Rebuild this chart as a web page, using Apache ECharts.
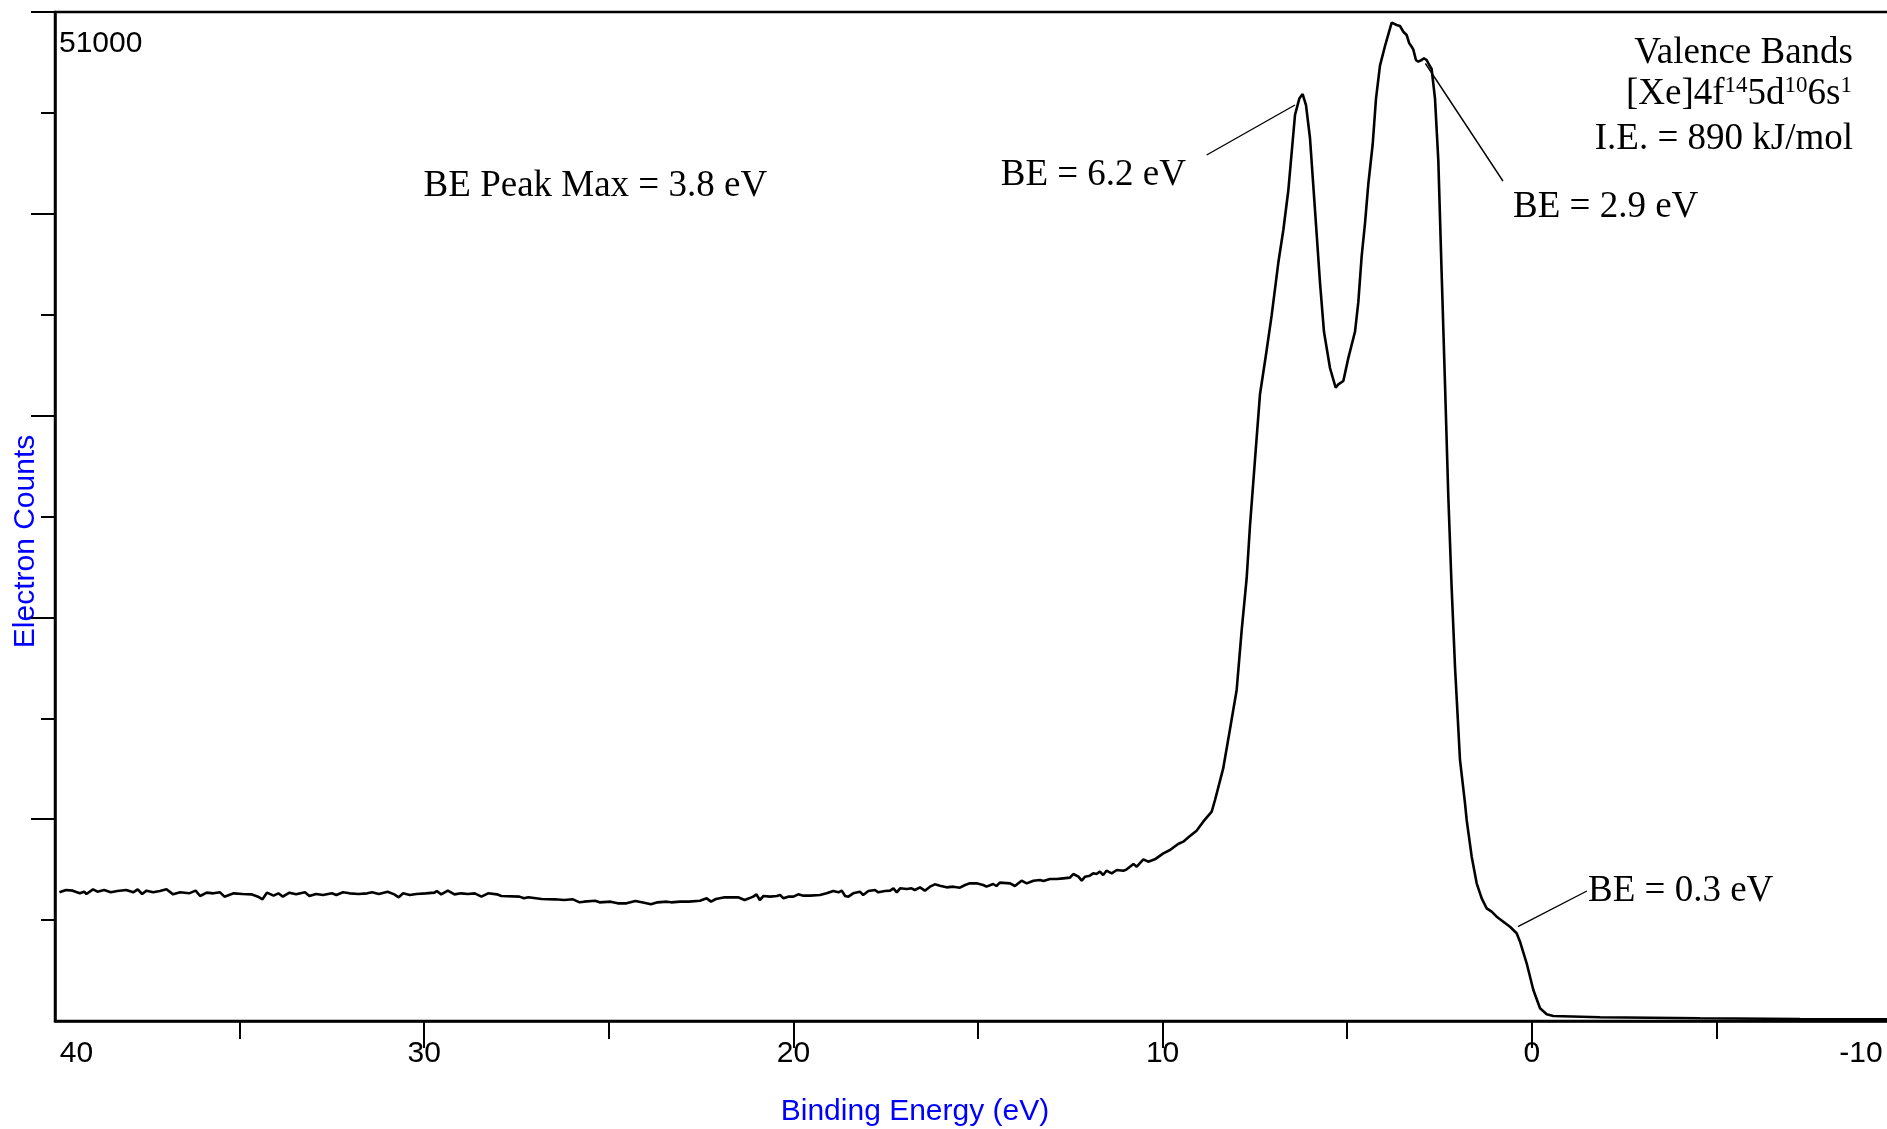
<!DOCTYPE html>
<html>
<head>
<meta charset="utf-8">
<script src="https://cdn.jsdelivr.net/npm/echarts@6.0.0/dist/echarts.min.js"></script>
<style>
html,body{margin:0;padding:0;background:#fff;}
#chart{width:1887px;height:1129px;}
</style>
</head>
<body>
<div id="chart"></div>
<script>
// Binding energy (eV), left to right
const bindingEnergy = [
 39.88,39.70,39.52,39.33,39.21,39.15,38.97,38.85,38.67,38.49,38.31,38.07,37.88,37.76,37.64,37.52,37.34,37.16,36.98,36.80,
 36.61,36.37,36.19,36.07,35.89,35.71,35.53,35.41,35.16,34.92,34.68,34.50,34.38,34.26,34.08,33.95,33.83,33.65,33.47,33.23,
 33.11,32.93,32.74,32.50,32.38,32.20,32.02,31.78,31.54,31.41,31.23,30.99,30.81,30.69,30.57,30.39,30.21,29.96,29.72,29.66,
 29.54,29.36,29.18,29.00,28.82,28.63,28.45,28.27,28.03,27.91,27.42,27.30,27.18,26.82,26.46,26.21,25.97,25.79,25.67,25.37,
 25.25,24.95,24.76,24.52,24.28,24.04,23.86,23.68,23.43,23.31,23.07,22.83,22.53,22.35,22.23,22.10,21.86,21.50,21.32,21.20,
 21.09,21.00,20.91,20.81,20.63,20.45,20.36,20.27,20.14,20.00,19.87,19.73,19.55,19.28,19.10,18.92,18.78,18.69,18.60,18.51,
 18.38,18.20,18.11,17.97,17.79,17.70,17.52,17.38,17.29,17.20,17.11,16.93,16.80,16.71,16.57,16.44,16.30,16.17,16.03,15.85,
 15.67,15.49,15.35,15.22,15.04,14.86,14.77,14.59,14.50,14.41,14.13,14.00,13.82,13.68,13.50,13.32,13.23,13.05,12.87,12.69,
 12.51,12.42,12.28,12.19,12.10,11.97,11.88,11.79,11.70,11.61,11.52,11.38,11.24,11.06,10.97,10.79,10.70,10.66,10.52,10.39,
 10.21,9.98,9.80,9.58,9.44,9.30,9.08,8.90,8.67,8.58,8.36,8.175,7.994,7.859,7.723,7.633,7.498,7.362,7.200,7.046,
 6.866,6.730,6.595,6.414,6.297,6.207,6.116,6.008,5.872,5.737,5.629,5.466,5.313,5.240,5.105,4.970,4.789,4.699,4.608,4.518,
 4.428,4.310,4.220,4.112,3.976,3.795,3.660,3.571,3.481,3.390,3.319,3.254,3.211,3.138,3.075,2.983,2.921,2.848,2.778,2.713,
 2.622,2.532,2.442,2.351,2.261,2.171,2.080,1.945,1.809,1.764,1.628,1.493,1.357,1.222,1.087,0.951,0.771,0.590,0.410,0.319,
 0.139,-0.042,-0.223,-0.403,-0.584,-1.848,-4.56,-7.265,-9.62
];
// Electron counts
const electronCounts = [
 6504,6621,6588,6453,6537,6419,6655,6537,6621,6504,6571,6621,6504,6655,6419,6588,6504,6571,6655,6402,
 6504,6453,6588,6318,6487,6453,6504,6285,6453,6419,6402,6285,6150,6487,6335,6453,6285,6487,6402,6504,
 6318,6419,6369,6453,6369,6504,6453,6419,6453,6504,6419,6537,6402,6251,6453,6369,6419,6453,6487,6571,
 6402,6588,6402,6453,6419,6453,6285,6453,6402,6318,6285,6200,6251,6166,6150,6116,6150,5998,6032,6082,
 5998,6032,5947,5947,6065,5981,5897,5998,6032,5998,6032,6032,6082,6200,6032,6166,6251,6251,6116,6200,
 6285,6402,6116,6318,6285,6318,6369,6200,6285,6285,6402,6335,6335,6369,6453,6571,6504,6588,6318,6285,
 6453,6537,6369,6571,6621,6504,6571,6588,6706,6504,6706,6672,6706,6621,6756,6588,6790,6908,6840,6756,
 6790,6739,6874,6958,6958,6874,6790,6925,6824,6992,6958,6824,7093,6958,7093,7127,7076,7177,7177,7211,
 7245,7430,7295,7093,7295,7346,7464,7430,7548,7380,7598,7464,7632,7598,7666,7936,7801,7834,8172,8053,
 8172,8475,8643,8946,9064,9283,9620,10075,10580,11170,12753,14744,16735,19728,22381,25040,28361,31682,33673,35664,
 38323,39981,41978,45794,46623,46855,46294,44631,40982,37327,34836,33006,32015,32177,32349,33506,34836,36332,38657,40315,
 42306,44303,46623,48286,49281,50461,50343,50292,50004,49837,49417,49246,49114,48574,48488,48574,48660,48574,48321,48119,
 46623,43500,37800,32200,26500,21900,17900,13200,11000,10160,8305,6960,6202,5696,5525,5272,5019,4766,4433,4008,
 2916,1567,642,339,253,187,136,101,90
];
// Axis ticks / labels
const xTickValues = [40, 30, 20, 10, 0, -10];
const yTickValues = [10200, 20400, 30600, 40800, 51000];
const yLabelValue = 51000;
// Leader lines of the annotations [curve point, text end] in data units
const leaderLines = [
  [[6.414, 46300], [8.807, 43772]],
  [[2.881, 48397], [0.782, 42458]],
  [[0.376, 4766], [-1.493, 6571]]
];

const SANS = "'Liberation Sans', Arial, sans-serif";
const SERIF = "'Liberation Serif', 'Times New Roman', serif";
const MAIN_PX = 37, SUP_PX = 23;

// Build the electron configuration line with raised superscripts
function configPieces(rightX, baseline) {
  const parts = [['[Xe]4f', false], ['14', true], ['5d', false], ['10', true], ['6s', false], ['1', true]];
  const ctx = document.createElement('canvas').getContext('2d');
  const widths = parts.map(function (p) {
    ctx.font = (p[1] ? SUP_PX : MAIN_PX) + 'px ' + SERIF;
    return ctx.measureText(p[0]).width;
  });
  let x = rightX - widths.reduce(function (a, b) { return a + b; }, 0);
  return parts.map(function (p, i) {
    const el = {
      type: 'text', x: x, silent: true,
      y: p[1] ? baseline - 11 - 5 : baseline - 8,
      style: {text: p[0], font: (p[1] ? SUP_PX : MAIN_PX) + 'px ' + SERIF, fill: '#000', align: 'left', verticalAlign: 'middle'}
    };
    x += widths[i];
    return el;
  });
}

function serifText(text, x, baseline, align) {
  return {type: 'text', x: x, y: baseline - 8, silent: true,
    style: {text: text, font: MAIN_PX + 'px ' + SERIF, fill: '#000', align: align, verticalAlign: 'middle'}};
}

const chart = echarts.init(document.getElementById('chart'), null, {renderer: 'canvas'});

const option = {
  animation: false,
  backgroundColor: '#fff',
  grid: {
    left: 55, top: 12, bottom: 108, right: -14,
    show: true, borderColor: '#000', borderWidth: 2.5,
    outerBoundsMode: 'none', containLabel: false
  },
  xAxis: {
    type: 'value', inverse: true, min: -10, max: 40, interval: 10,
    axisLine: {show: true, onZero: false, lineStyle: {color: '#000', width: 2.5}},
    axisTick: {show: true, length: 27, customValues: [30, 20, 10, 0, -10], lineStyle: {color: '#000', width: 2}},
    minorTick: {show: true, splitNumber: 2, length: 18, lineStyle: {color: '#000', width: 2}},
    splitLine: {show: false}, minorSplitLine: {show: false},
    axisLabel: {
      customValues: xTickValues,
      margin: 18, color: '#000', fontSize: 30, fontFamily: SANS, verticalAlign: 'top',
      formatter: function (v) {
        if (v === 40) return '{l|40}';
        if (v === -10) return '{r|-10}';
        return String(v);
      },
      rich: {
        l: {fontSize: 30, fontFamily: SANS, color: '#000', padding: [0, 0, 0, 43]},
        r: {fontSize: 30, fontFamily: SANS, color: '#000', padding: [0, 80, 0, 0]}
      }
    },
    name: 'Binding Energy (eV)', nameLocation: 'middle', nameGap: 76,
    nameTextStyle: {color: '#0000ff', fontSize: 30, fontFamily: SANS, padding: [0, 126, 0, 0]}
  },
  yAxis: {
    type: 'value', min: 0, max: 51000, interval: 10200,
    axisLine: {show: true, onZero: false, lineStyle: {color: '#000', width: 2.5}},
    axisTick: {show: true, length: 24, customValues: yTickValues, lineStyle: {color: '#000', width: 2}},
    minorTick: {show: true, splitNumber: 2, length: 14, lineStyle: {color: '#000', width: 2}},
    splitLine: {show: false}, minorSplitLine: {show: false},
    axisLabel: {
      customValues: [yLabelValue],
      inside: true, margin: 4, color: '#000', fontSize: 30, fontFamily: SANS,
      verticalAlign: 'top', align: 'left', padding: [17, 0, 0, 0],
      formatter: function (v) { return v === yLabelValue ? String(yLabelValue) : ''; }
    },
    name: 'Electron Counts', nameLocation: 'middle', nameGap: 14,
    nameTextStyle: {color: '#0000ff', fontSize: 30, fontFamily: SANS, padding: [0, 50, 0, 0]}
  },
  series: [{
    type: 'line',
    data: bindingEnergy.map(function (e, i) { return [e, electronCounts[i]]; }),
    showSymbol: false, symbol: 'none', smooth: false,
    lineStyle: {color: '#000', width: 2.6},
    silent: true,
    markLine: {
      silent: true, symbol: ['none', 'none'], animation: false,
      label: {show: false},
      lineStyle: {color: '#000', width: 1.4, type: 'solid'},
      emphasis: {disabled: true},
      data: leaderLines.map(function (l) { return [{coord: l[0]}, {coord: l[1]}]; })
    }
  }],
  graphic: [
    serifText('BE Peak Max = 3.8 eV', 423.6, 194, 'left'),
    serifText('BE = 6.2 eV', 1186, 183, 'right'),
    serifText('BE = 2.9 eV', 1513, 215, 'left'),
    serifText('BE = 0.3 eV', 1588, 899, 'left'),
    serifText('Valence Bands', 1853, 61, 'right'),
    serifText('I.E. = 890 kJ/mol', 1853, 147, 'right')
  ].concat(configPieces(1852, 102))
};
chart.setOption(option);
</script>
</body>
</html>
